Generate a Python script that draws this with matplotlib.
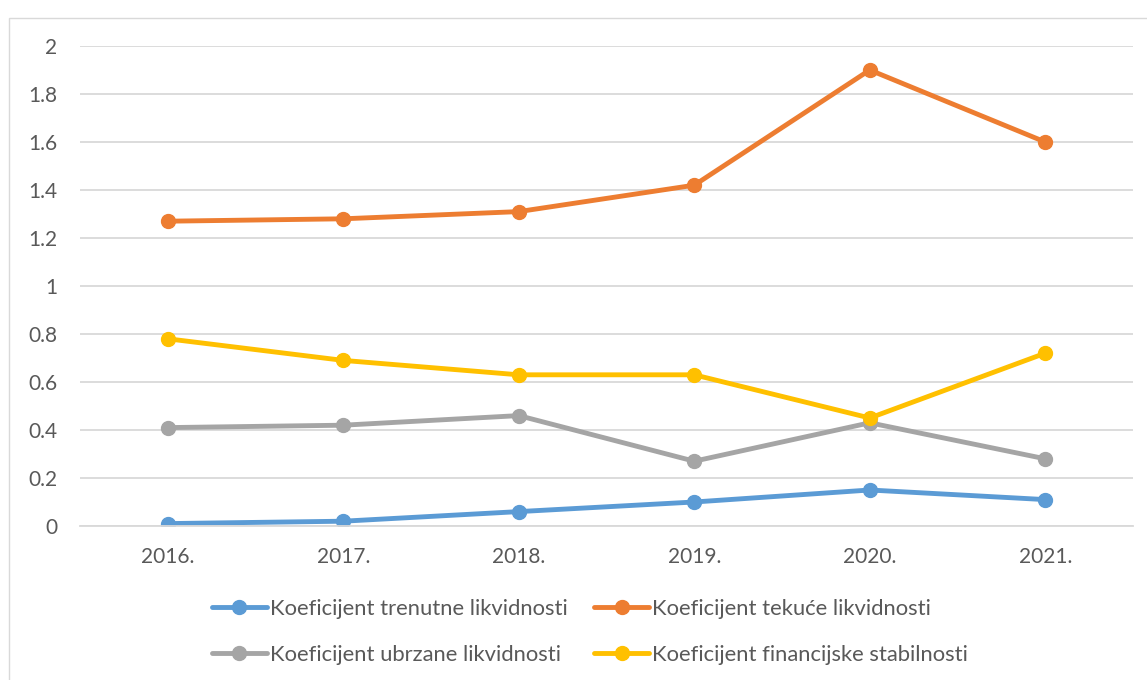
import matplotlib
matplotlib.use("Agg")
import matplotlib.pyplot as plt
from matplotlib.patches import Rectangle

years = ["2016.", "2017.", "2018.", "2019.", "2020.", "2021."]
trenutne = [0.01, 0.02, 0.06, 0.10, 0.15, 0.11]
tekuce = [1.27, 1.28, 1.31, 1.42, 1.90, 1.60]
ubrzane = [0.41, 0.42, 0.46, 0.27, 0.43, 0.28]
financijske = [0.78, 0.69, 0.63, 0.63, 0.45, 0.72]

labels = ["Koeficijent trenutne likvidnosti", "Koeficijent tekuće likvidnosti",
          "Koeficijent ubrzane likvidnosti", "Koeficijent financijske stabilnosti"]
colors = ["#5B9BD5", "#ED7D31", "#A5A5A5", "#FFC000"]
series = [trenutne, tekuce, ubrzane, financijske]

plt.rcParams['font.family'] = ['Lato', 'DejaVu Sans']
text_color = "#595959"

fig = plt.figure(figsize=(11.47, 6.8), dpi=100)
fig.patches.append(Rectangle((9/1147, -0.1), 1.2, 1 - 18/680 + 0.1, transform=fig.transFigure,
                             fill=False, edgecolor="#D9D9D9", linewidth=1.0))

ax = fig.add_axes([80/1147, 1 - 526/680, (1133 - 80)/1147, (526 - 46)/680])
x = list(range(len(years)))
handles = []
for vals, c, lab in zip(series, colors, labels):
    h, = ax.plot(x, vals, color=c, linewidth=3.5, marker='o', markersize=10,
                 label=lab, solid_capstyle='round')
    handles.append(h)

ax.set_xlim(-0.5, len(years) - 0.5)
ax.set_ylim(0, 2)
ax.set_yticks([0, 0.2, 0.4, 0.6, 0.8, 1, 1.2, 1.4, 1.6, 1.8, 2])
ax.set_yticklabels(["0", "0.2", "0.4", "0.6", "0.8", "1", "1.2", "1.4", "1.6", "1.8", "2"])
ax.set_xticks(x)
ax.set_xticklabels(years)
ax.grid(axis='y', color="#D9D9D9", linewidth=1.3)
ax.set_axisbelow(True)
for s in ['top', 'right', 'left']:
    ax.spines[s].set_visible(False)
ax.spines['bottom'].set_color("#D9D9D9")
ax.spines['bottom'].set_linewidth(1.3)
ax.tick_params(axis='both', length=0, labelsize=15, colors=text_color)
ax.tick_params(axis='y', pad=16.5)
ax.tick_params(axis='x', pad=15)

order = [0, 2, 1, 3]
leg = fig.legend([handles[i] for i in order], [labels[i] for i in order], ncol=2,
                 loc='center', bbox_to_anchor=(590/1147, 1 - 632/680), frameon=False,
                 fontsize=15.8, handlelength=2.5, handletextpad=0.15, columnspacing=1.2,
                 labelspacing=1.2, labelcolor=text_color)

fig.savefig("out.png", dpi=100)
